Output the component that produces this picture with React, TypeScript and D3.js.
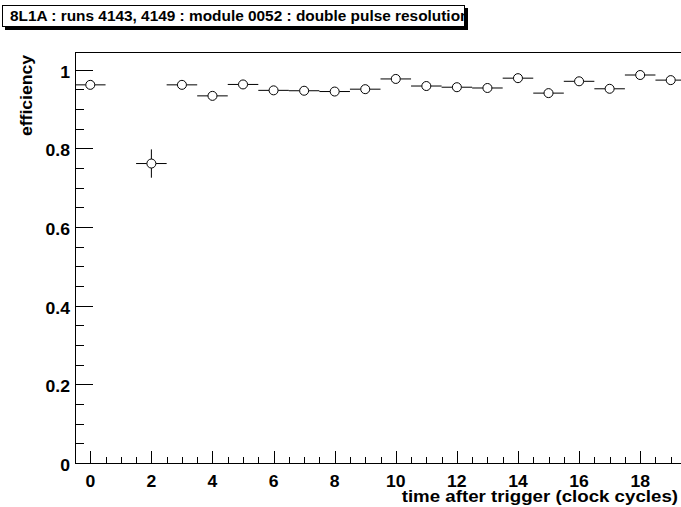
import React from "react";
import * as d3 from "d3";

const title = "8L1A : runs 4143, 4149 : module 0052 : double pulse resolution";
const xLabel = "time after trigger (clock cycles)";
const yLabel = "efficiency";

const xs = [0, 2, 3, 4, 5, 6, 7, 8, 9, 10, 11, 12, 13, 14, 15, 16, 17, 18, 19];
const effs = [0.961, 0.761, 0.961, 0.933, 0.962, 0.947, 0.946, 0.944, 0.95, 0.976, 0.958, 0.955, 0.953, 0.978, 0.94, 0.97, 0.951, 0.986, 0.973];
const errs = [0.006, 0.036, 0.006, 0.008, 0.006, 0.007, 0.007, 0.007, 0.007, 0.005, 0.006, 0.006, 0.006, 0.005, 0.007, 0.005, 0.006, 0.004, 0.005];
const xTicks = [0, 2, 4, 6, 8, 10, 12, 14, 16, 18];
const yTicks = [0, 0.2, 0.4, 0.6, 0.8, 1];

const W = 681;
const H = 507;
const FONT = "'Liberation Sans', Arial, Helvetica, sans-serif";
const SX = 1.1;

function T(props: { x: number; y: number; anchor?: string; size: number; rotate?: number; children: any; clip?: string }) {
  const { x, y, anchor = "start", size, rotate = 0, children, clip } = props;
  return (
    <g clipPath={clip}>
      <text
        transform={`translate(${x},${y}) rotate(${rotate}) scale(${SX},1)`}
        textAnchor={anchor}
        fontFamily={FONT}
        fontWeight="bold"
        fontSize={size}
      >
        {children}
      </text>
    </g>
  );
}

export default function App() {
  const x = d3.scaleLinear().domain([-0.5, 19.5]).range([75, 686.0]);
  const y = d3.scaleLinear().domain([0, 1]).range([463, 69.5]);
  const topY = 52;
  const left = 75;
  const bottom = 463;
  const right = W;

  const xMinor = d3.range(-0.5, 19.5 + 0.001, 0.5).filter((v) => x(v) <= right && x(v) > left + 0.5);
  const yMinor = d3.range(0, 1.04 + 0.0001, 0.05).filter((v) => y(v) >= topY);
  const r = 4.5;

  return (
    <svg width={W} height={H} style={{ position: "absolute", left: 0, top: 0, background: "#fff" }}>
      <defs>
        <clipPath id="titleClip">
          <rect x={2} y={5} width={463} height={22} />
        </clipPath>
      </defs>
      <rect x={0} y={0} width={W} height={H} fill="#fff" />
      {/* frame */}
      <line x1={left} x2={right} y1={topY + 0.5} y2={topY + 0.5} stroke="#000" />
      <line x1={left + 0.5} x2={left + 0.5} y1={topY} y2={bottom} stroke="#000" />
      <line x1={left} x2={right} y1={bottom + 0.5} y2={bottom + 0.5} stroke="#000" />
      {/* x ticks */}
      {xMinor.map((v, i) => {
        const isMajor = Math.abs(v / 2 - Math.round(v / 2)) < 1e-6;
        const px = Math.round(x(v)) + 0.5;
        return (
          <line key={"xm" + i} x1={px} x2={px} y1={bottom} y2={bottom - (isMajor ? 12 : 6)} stroke="#000" />
        );
      })}
      {xTicks.map((v) => (
        <T key={"xt" + v} x={x(v)} y={486.5} anchor="middle" size={16}>
          {v}
        </T>
      ))}
      {/* y ticks */}
      {yMinor.map((v, i) => {
        const isMajor = Math.abs(v / 0.2 - Math.round(v / 0.2)) < 1e-6;
        const py = Math.round(y(v)) + 0.5;
        return (
          <line key={"ym" + i} x1={left} x2={left + (isMajor ? 18 : 9)} y1={py} y2={py} stroke="#000" />
        );
      })}
      {yTicks.map((v) => (
        <T key={"yt" + v} x={70} y={y(v) + 8} anchor="end" size={16}>
          {String(v)}
        </T>
      ))}
      {/* error bars and markers */}
      {xs.map((xv, i) => {
        const cx = x(xv);
        const cy = y(effs[i]);
        const x0 = Math.max(x(xv - 0.5), left);
        const x1 = Math.min(x(xv + 0.5), right);
        const yTop = y(effs[i] + errs[i]);
        const yBot = y(effs[i] - errs[i]);
        return (
          <g key={"p" + i}>
            {x0 < cx - r && <line x1={x0} x2={cx - r} y1={cy} y2={cy} stroke="#000" />}
            {cx + r < x1 && <line x1={cx + r} x2={x1} y1={cy} y2={cy} stroke="#000" />}
            {yTop < cy - r && <line x1={cx} x2={cx} y1={yTop} y2={cy - r} stroke="#000" />}
            {yBot > cy + r && <line x1={cx} x2={cx} y1={cy + r} y2={yBot} stroke="#000" />}
            <circle cx={cx} cy={cy} r={r} fill="#fff" stroke="#000" />
          </g>
        );
      })}
      {/* axis titles */}
      <T x={678} y={502} anchor="end" size={17}>
        {xLabel}
      </T>
      <T x={32} y={55} anchor="end" size={16} rotate={-90}>
        {yLabel}
      </T>
      {/* title box */}
      <rect x={5} y={8} width={463} height={22} fill="#000" />
      <rect x={2.5} y={5.5} width={462} height={21} fill="#fff" stroke="#000" />
      <T x={10} y={21} size={14} clip="url(#titleClip)">
        {title}
      </T>
    </svg>
  );
}
